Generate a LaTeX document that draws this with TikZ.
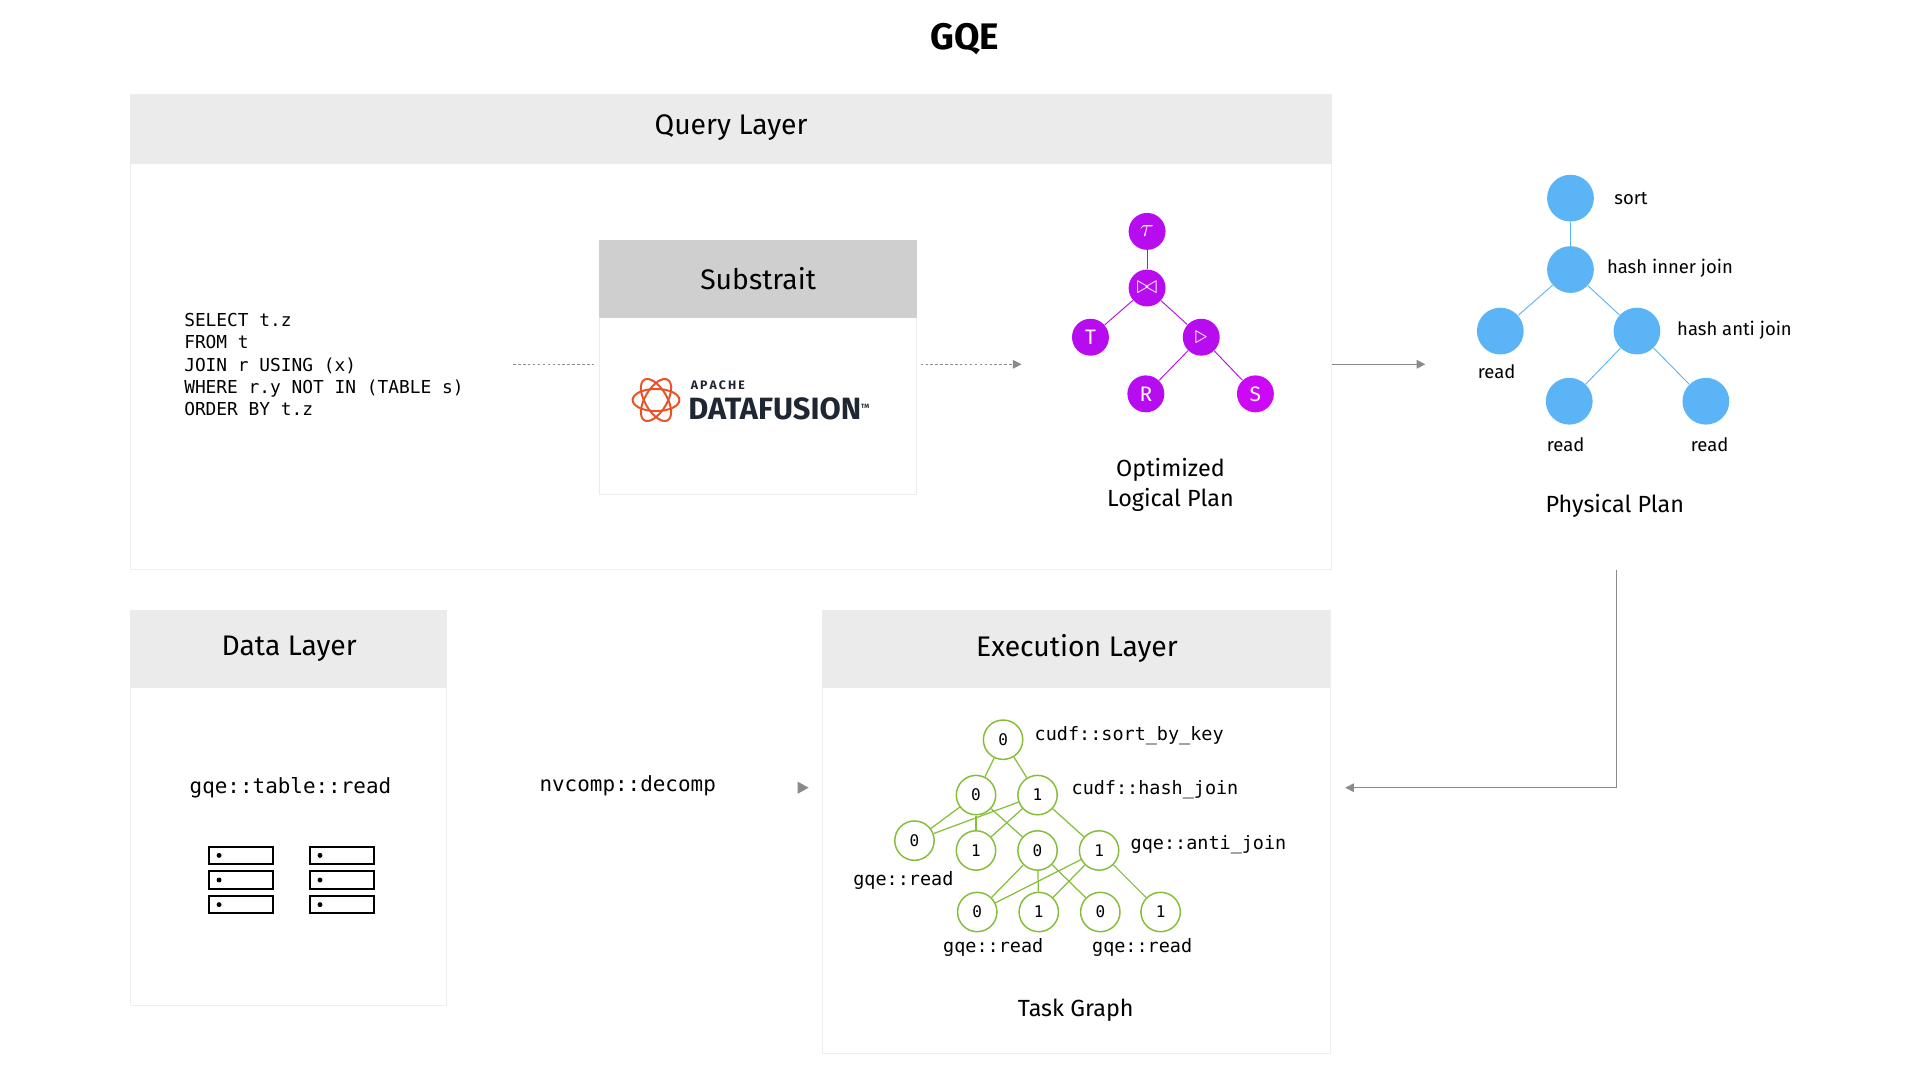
\documentclass[tikz,border=0pt]{standalone}
\usepackage{fontspec}
\setmainfont{Fira Sans}
\newfontfamily\monofont{DejaVu Sans Mono}
\usepackage{amssymb}
\usetikzlibrary{arrows.meta}
\definecolor{hdrgray}{HTML}{EBEBEB}
\definecolor{subgray}{HTML}{CFCFCF}
\definecolor{boxline}{HTML}{EEEEEE}
\definecolor{lplan}{HTML}{B80CF0}
\definecolor{pplan}{HTML}{5AB4F5}
\definecolor{tgreen}{HTML}{86BE3A}
\definecolor{arrgray}{HTML}{8A8A8A}
\definecolor{dfred}{HTML}{E8452C}
\definecolor{dfnavy}{HTML}{1F2733}
\tikzset{every picture/.style={line width=0.75pt}}
\tikzset{
  layer/.style={draw=boxline, fill=white},
  header/.style={fill=hdrgray, draw=none},
  hdrtext/.style={font=\fontsize{23}{24}\selectfont},
  lnode/.style={circle, fill=lplan, minimum size=30pt, inner sep=0pt, text=white, font=\fontsize{17}{18}\selectfont},
  pnode/.style={circle, fill=pplan, minimum size=38pt, inner sep=0pt},
  tnode/.style={circle, draw=tgreen, line width=1.2pt, fill=white, minimum size=32pt, inner sep=0pt, font=\monofont\fontsize{13}{14}\selectfont},
  mono/.style={font=\monofont\fontsize{15}{18}\selectfont},
  lbl/.style={font=\fontsize{15}{18}\selectfont},
  flow/.style={arrgray, line width=1pt, -{Triangle[length=7pt,width=7pt]}},
}
\begin{document}
\begin{tikzpicture}[x=1pt,y=-1pt]
	\useasboundingbox (0,0) rectangle (1560,877.5);
	
	% Title
	\node (title) at (784,32) {\fontsize{30}{32}\selectfont\bfseries GQE};
	
	% Query layer
	\draw [layer] (106,77) rectangle (1082,463);
	\fill [header] (106,77) rectangle (1082,133);
	\node [hdrtext] (qlayer) at (594,104) {Query Layer};
	\node [mono, anchor=north west, align=left, font=\monofont\fontsize{14.5}{18}\selectfont] (sql) at (146,251) {SELECT t.z\\FROM t\\JOIN r USING (x)\\WHERE r.y NOT IN (TABLE s)\\ORDER BY t.z};
	
	% Substrait
	\draw [layer, draw=hdrgray] (487,195) rectangle (745,402);
	\fill [subgray] (487,195) rectangle (745,258);
	\node [hdrtext] (substrait) at (616,226) {Substrait};
	\begin{scope}[shift={(533,325)}]
		\foreach \a in {0,60,120} {
			\draw [dfred!80!orange, line width=1.6pt, rotate=\a] (0,0) ellipse (19pt and 9pt);
		}
	\end{scope}
	\node [anchor=west, inner sep=0pt] (apache) at (561,313) {\fontsize{10}{10}\selectfont\bfseries\color{dfnavy}A\,P\,A\,C\,H\,E};
	\node [anchor=west, inner sep=0pt] (datafusion) at (559,332) {\fontsize{25}{25}\selectfont\bfseries\color{dfnavy}DATAFUSION\raisebox{9pt}{\fontsize{5}{5}\selectfont TM}};
	\coordinate (sqlend) at (417,296);
	\coordinate (subin) at (485,296);
	\coordinate (subout) at (748,296);
	\coordinate (lpin) at (830,296);
	\draw [arrgray, dash pattern={on 2pt off 2pt}, line width=0.8pt] (sqlend) -- (subin);
	\draw [flow, dash pattern={on 2pt off 2pt}, line width=0.8pt] (subout) -- (lpin);
	
	% Optimized logical plan
	\node [lnode] (tau) at (932,188) {\fontsize{20}{20}\selectfont$\tau$};
	\node [lnode] (join) at (932,234) {\fontsize{20}{20}\selectfont$\bowtie$};
	\node [lnode] (T) at (886,274) {T};
	\node [lnode] (anti) at (976,274) {\fontsize{22}{22}\selectfont$\triangleright$};
	\node [lnode] (R) at (931,320) {R};
	\node [lnode, fill=lplan!70!magenta] (S) at (1020,320) {S};
	\foreach \u/\v in {tau/join, join/T, join/anti, anti/R, anti/S}
		\draw [lplan] (\u) -- (\v);
	\node [lbl, font=\fontsize{19}{24}\selectfont, align=center] (lplan) at (951,394) {Optimized\\Logical Plan};
	
	% Physical plan
	\coordinate (qout) at (1082,296);
	\coordinate (ppin) at (1158,296);
	\draw [flow] (qout) -- (ppin);
	\node [pnode] (sort) at (1276,161) {};
	\node [pnode] (hij) at (1276,219) {};
	\node [pnode] (read1) at (1219,269) {};
	\node [pnode] (haj) at (1330,269) {};
	\node [pnode] (read2) at (1275,326) {};
	\node [pnode] (read3) at (1386,326) {};
	\foreach \u/\v in {sort/hij, hij/read1, hij/haj, haj/read2, haj/read3}
		\draw [pplan] (\u) -- (\v);
	\node [lbl, anchor=west] (lsort) at (1308,161) {sort};
	\node [lbl, anchor=west] (lhij) at (1302,218) {hash inner join};
	\node [lbl, anchor=west] (lhaj) at (1359,268) {hash anti join};
	\node [lbl] (lr1) at (1216,302) {read};
	\node [lbl] (lr2) at (1272,361) {read};
	\node [lbl] (lr3) at (1389,361) {read};
	\node [lbl, font=\fontsize{19}{24}\selectfont] (pplan) at (1312,411) {Physical Plan};
	
	% back to execution layer
	\coordinate (ppout) at (1313,463);
	\coordinate (corner) at (1313,640);
	\coordinate (exin) at (1093,640);
	\draw [flow, line width=0.8pt] (ppout) -- (corner) -- (exin);
	
	% Data layer
	\draw [layer] (106,496) rectangle (363,817);
	\fill [header] (106,496) rectangle (363,559);
	\node [hdrtext] (dlayer) at (235,527) {Data Layer};
	\node [mono, font=\monofont\fontsize{17}{18}\selectfont] (tread) at (236,640) {gqe::table::read};
	\foreach \x in {170,252} {
		\foreach \y in {688,708,728} {
			\draw [line width=1.6pt] (\x,\y) rectangle ++(52,14);
			\fill (\x+8,\y+7) circle (2pt);
		}
	}
	\node [mono, font=\monofont\fontsize{17}{18}\selectfont] (decomp) at (510,638) {nvcomp::decomp};
	\fill [arrgray] (648,635) -- (657,640) -- (648,645) -- cycle;
	
	% Execution layer
	\draw [layer] (668,496) rectangle (1081,856);
	\fill [header] (668,496) rectangle (1081,559);
	\node [hdrtext] (elayer) at (875,527) {Execution Layer};
	\node [tnode] (a0) at (815,601) {0};
	\node [tnode] (b0) at (793,646) {0};
	\node [tnode] (b1) at (843,646) {1};
	\node [tnode] (c0) at (743,683) {0};
	\node [tnode] (c1) at (793,691) {1};
	\node [tnode] (c2) at (843,691) {0};
	\node [tnode] (c3) at (893,691) {1};
	\node [tnode] (d0) at (794,741) {0};
	\node [tnode] (d1) at (844,741) {1};
	\node [tnode] (d2) at (894,741) {0};
	\node [tnode] (d3) at (943,741) {1};
	\foreach \u/\v in {a0/b0, a0/b1, b0/c0, b0/c1, b0/c2, b1/c0, b1/c1, b1/c3,
		c2/d0, c2/d1, c2/d2, c3/d0, c3/d1, c3/d3}
		\draw [tgreen, line width=1pt] (\u) -- (\v);
	\node [mono, anchor=west] (lsbk) at (837,598) {cudf::sort\_by\_key};
	\node [mono, anchor=west] (lhj) at (867,642) {cudf::hash\_join};
	\node [mono, anchor=west] (laj) at (915,686) {gqe::anti\_join};
	\node [mono] (lgr1) at (734,715) {gqe::read};
	\node [mono] (lgr2) at (807,770) {gqe::read};
	\node [mono] (lgr3) at (928,770) {gqe::read};
	\node [lbl, font=\fontsize{19}{24}\selectfont] (tgraph) at (874,821) {Task Graph};
\end{tikzpicture}
\end{document}
